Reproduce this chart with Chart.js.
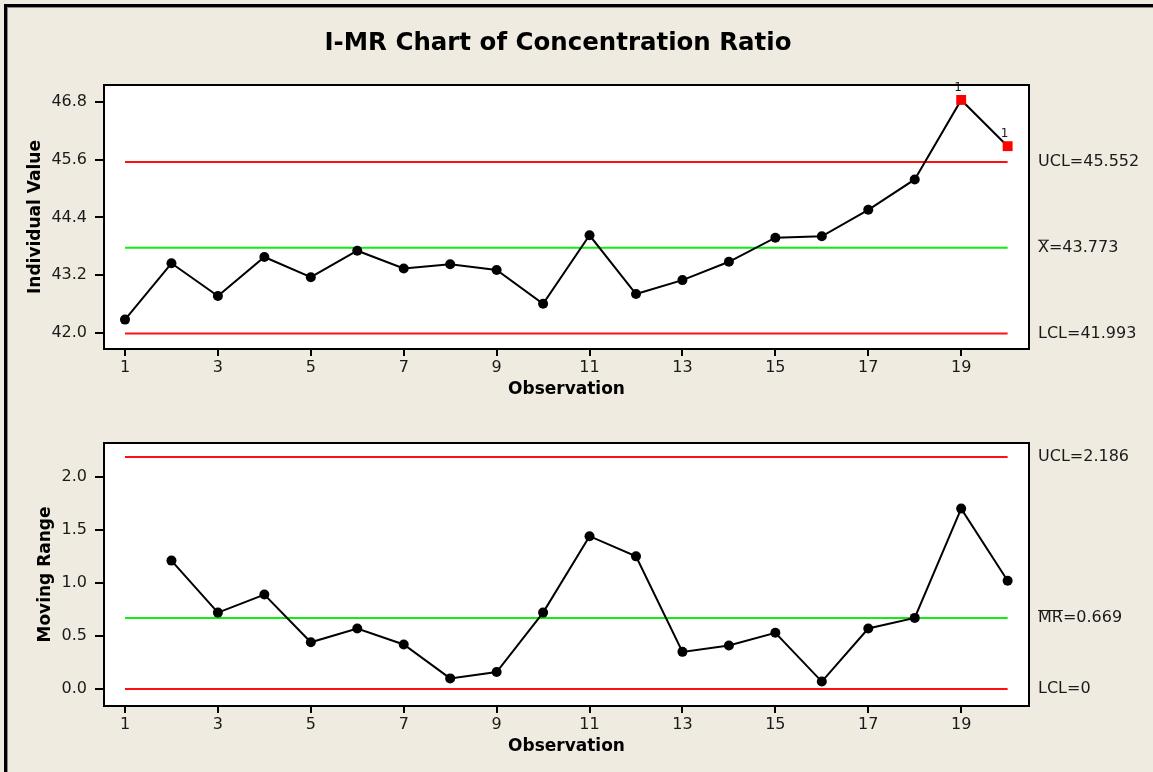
<!DOCTYPE html>
<html>
<head>
<meta charset="utf-8">
<title>I-MR Chart of Concentration Ratio</title>
<script src="https://cdn.jsdelivr.net/npm/chart.js@4.4.1/dist/chart.umd.min.js"></script>
<style>
  html, body { margin: 0; padding: 0; width: 1153px; height: 772px; overflow: hidden; background: #EFEBE1; }
  #frame { position: absolute; left: 4px; top: 4px; width: 1200px; height: 800px; border-left: 3px solid #000; border-top: 3px solid #000; }
  #frame div { width: 100%; height: 100%; border-left: 1px solid #8a8a8a; border-top: 1px solid #8a8a8a; }
  canvas { position: absolute; left: 0; }
  #iChart { top: 0; }
  #mrChart { top: 400px; }
</style>
</head>
<body>
<div id="frame"><div></div></div>
<canvas id="iChart" width="1153" height="400"></canvas>
<canvas id="mrChart" width="1153" height="372"></canvas>
<script>
// Datos
const observations = [1, 2, 3, 4, 5, 6, 7, 8, 9, 10, 11, 12, 13, 14, 15, 16, 17, 18, 19, 20];
const individualValues = [42.28, 43.45, 42.77, 43.58, 43.16, 43.71, 43.34, 43.43, 43.31, 42.61,
                          44.03, 42.81, 43.10, 43.48, 43.98, 44.01, 44.56, 45.19, 46.84, 45.88];
const movingRanges = [null, 1.21, 0.72, 0.89, 0.44, 0.57, 0.42, 0.10, 0.16, 0.72,
                      1.44, 1.25, 0.35, 0.41, 0.53, 0.07, 0.57, 0.67, 1.70, 1.02];

// Límites de control (UCL, media, LCL)
const individualLimits = [45.552, 43.773, 41.993];
const rangeLimits = [2.186, 0.669, 0];

// Etiquetas de los ejes
const xTicks = [1, 3, 5, 7, 9, 11, 13, 15, 17, 19];
const individualTicks = [42.0, 43.2, 44.4, 45.6, 46.8];
const rangeTicks = [0.0, 0.5, 1.0, 1.5, 2.0];

const FONT = "'DejaVu Sans', Verdana, sans-serif";
const RED = '#ff1010';
const GREEN = '#10ee10';

// Fondo blanco y marco del área de trazado
const boxPlugin = {
  id: 'box',
  beforeDraw(chart) {
    const a = chart.chartArea, ctx = chart.ctx;
    ctx.save();
    ctx.fillStyle = '#fff';
    ctx.fillRect(a.left, a.top, a.right - a.left, a.bottom - a.top);
    ctx.restore();
  },
  afterDraw(chart) {
    const a = chart.chartArea, ctx = chart.ctx;
    ctx.save();
    ctx.strokeStyle = '#000';
    ctx.lineWidth = 2;
    ctx.strokeRect(a.left, a.top, a.right - a.left, a.bottom - a.top);
    ctx.restore();
  }
};

// Etiquetas UCL / media / LCL a la derecha
const limitLabelPlugin = {
  id: 'limitLabels',
  afterDraw(chart, args, opts) {
    const ctx = chart.ctx, y = chart.scales.y, x0 = chart.chartArea.right + 9;
    ctx.save();
    ctx.font = '16px ' + FONT;
    ctx.fillStyle = '#1a1a1a';
    ctx.textBaseline = 'middle';
    ctx.textAlign = 'left';
    opts.items.forEach(item => {
      const py = y.getPixelForValue(item.value);
      const text = item.bar + '=' + String(item.value);
      ctx.fillText(text, x0, py);
      if (item.over) {
        const w = ctx.measureText(item.bar).width;
        ctx.lineWidth = 1;
        ctx.strokeStyle = '#1a1a1a';
        ctx.beginPath();
        ctx.moveTo(x0, py - 7.5);
        ctx.lineTo(x0 + w, py - 7.5);
        ctx.stroke();
      }
    });
    ctx.restore();
  }
};

// Marca "1" sobre los puntos fuera de control
const flagPlugin = {
  id: 'flags',
  afterDatasetsDraw(chart, args, opts) {
    if (!opts.flags) return;
    const ctx = chart.ctx, meta = chart.getDatasetMeta(0);
    ctx.save();
    ctx.font = '12px ' + FONT;
    ctx.fillStyle = '#1a1a1a';
    ctx.textAlign = 'center';
    ctx.textBaseline = 'middle';
    opts.flags.forEach((f, i) => {
      if (f) ctx.fillText('1', meta.data[i].x - 3, meta.data[i].y - 12);
    });
    ctx.restore();
  }
};

// Título principal
const titlePlugin = {
  id: 'mainTitle',
  afterDraw(chart, args, opts) {
    if (!opts.text) return;
    const ctx = chart.ctx;
    ctx.save();
    ctx.font = 'bold 25px ' + FONT;
    ctx.fillStyle = '#000';
    ctx.textAlign = 'center';
    ctx.textBaseline = 'alphabetic';
    ctx.fillText(opts.text, 558, 50, 467);
    ctx.restore();
  }
};

function limitLine(value, color) {
  return {
    data: [{x: observations[0], y: value}, {x: observations[observations.length - 1], y: value}],
    borderColor: color,
    borderWidth: 2,
    pointRadius: 0,
    order: 2
  };
}

function makeChart(id, cfg) {
  const flags = cfg.values.map(v => v !== null && (v > cfg.limits[0] || v < cfg.limits[2]));
  return new Chart(document.getElementById(id).getContext('2d'), {
    type: 'line',
    data: {
      datasets: [
        {
          data: observations.map((o, i) => ({x: o, y: cfg.values[i]})),
          borderColor: '#000',
          borderWidth: 2,
          pointStyle: flags.map(f => f ? 'rect' : 'circle'),
          pointRadius: flags.map(f => f ? 7 : 5),
          pointBackgroundColor: flags.map(f => f ? '#ff0000' : '#000'),
          pointBorderColor: flags.map(f => f ? '#ff0000' : '#000'),
          pointBorderWidth: 0,
          spanGaps: false,
          order: 0
        },
        limitLine(cfg.limits[0], RED),
        limitLine(cfg.limits[1], GREEN),
        limitLine(cfg.limits[2], RED)
      ]
    },
    options: {
      responsive: false,
      animation: false,
      devicePixelRatio: 1,
      layout: { padding: { left: 0, right: 124, top: cfg.top, bottom: 0 } },
      plugins: {
        legend: { display: false },
        tooltip: { enabled: false },
        limitLabels: { items: cfg.labels },
        flags: { flags: flags },
        mainTitle: { text: cfg.title }
      },
      scales: {
        x: {
          type: 'linear',
          min: 0.548,
          max: 20.46,
          afterBuildTicks: s => { s.ticks = xTicks.map(v => ({value: v})); },
          afterFit: s => { s.height = cfg.xHeight; },
          grid: { display: true, drawOnChartArea: false, drawTicks: true, tickLength: 7, color: '#000', lineWidth: 2 },
          border: { display: false },
          ticks: { color: '#1a1a1a', font: { family: FONT, size: 16 }, padding: 2, maxRotation: 0, autoSkip: false },
          title: { display: true, text: 'Observation', color: '#000', font: { family: FONT, size: 17, weight: 'bold' },
                   padding: { top: 0, bottom: cfg.xTitlePad } }
        },
        y: {
          type: 'linear',
          min: cfg.yMin,
          max: cfg.yMax,
          afterBuildTicks: s => { s.ticks = cfg.ticks.map(v => ({value: v})); },
          afterFit: s => { s.width = 104; },
          grid: { display: true, drawOnChartArea: false, drawTicks: true, tickLength: 9, color: '#000', lineWidth: 2 },
          border: { display: false },
          ticks: { color: '#1a1a1a', font: { family: FONT, size: 16 }, padding: 8, callback: v => v.toFixed(1) },
          title: { display: true, text: cfg.yTitle, color: '#000', font: { family: FONT, size: 17, weight: 'bold' },
                   padding: { top: cfg.yTitlePad, bottom: 0 } }
        }
      }
    },
    plugins: [boxPlugin, limitLabelPlugin, flagPlugin, titlePlugin]
  });
}

// Gráfico de valores individuales
makeChart('iChart', {
  values: individualValues,
  limits: individualLimits,
  ticks: individualTicks,
  yMin: 41.67, yMax: 47.15,
  top: 85, xHeight: 51, xTitlePad: 0,
  yTitle: 'Individual Value', yTitlePad: 25,
  title: 'I-MR Chart of Concentration Ratio',
  labels: [
    { bar: 'UCL', value: individualLimits[0] },
    { bar: 'X', value: individualLimits[1], over: true },
    { bar: 'LCL', value: individualLimits[2] }
  ]
});

// Gráfico de rangos móviles
makeChart('mrChart', {
  values: movingRanges,
  limits: rangeLimits,
  ticks: rangeTicks,
  yMin: -0.16, yMax: 2.318,
  top: 43, xHeight: 66, xTitlePad: 15,
  yTitle: 'Moving Range', yTitlePad: 35,
  title: '',
  labels: [
    { bar: 'UCL', value: rangeLimits[0] },
    { bar: 'MR', value: rangeLimits[1], over: true },
    { bar: 'LCL', value: rangeLimits[2] }
  ]
});
</script>
</body>
</html>
